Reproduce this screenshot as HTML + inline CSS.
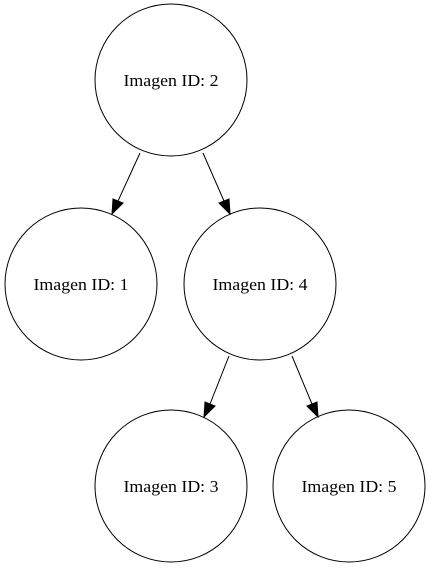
<!DOCTYPE html>
<html><head><style>body{margin:0;background:#fff}</style></head><body>
<svg width="433" height="569" xmlns="http://www.w3.org/2000/svg" font-family="Liberation Serif, serif" font-size="17">
<rect width="433" height="569" fill="#fff"/>
<g fill="none" stroke="#000" stroke-width="1">
<circle cx="171" cy="80" r="76"/>
<circle cx="81" cy="284" r="76"/>
<circle cx="260" cy="284" r="76"/>
<circle cx="171" cy="486" r="76"/>
<circle cx="349" cy="486" r="76"/>
<line x1="140" y1="153" x2="118" y2="201"/>
<line x1="203" y1="153" x2="224" y2="201"/>
<line x1="229" y1="356" x2="210" y2="404"/>
<line x1="292" y1="356" x2="312" y2="404"/>
</g>
<g fill="#000" stroke="#000">
<polygon points="112,214 113,199 123,203"/>
<polygon points="230,214 219,203 229,199"/>
<polygon points="204,417 205,402 215,406"/>
<polygon points="318,417 307,406 317,402"/>
</g>
<g text-anchor="middle" fill="#000">
<text x="171" y="86" textLength="95" lengthAdjust="spacingAndGlyphs">Imagen ID: 2</text>
<text x="81" y="290" textLength="95" lengthAdjust="spacingAndGlyphs">Imagen ID: 1</text>
<text x="260" y="290" textLength="95" lengthAdjust="spacingAndGlyphs">Imagen ID: 4</text>
<text x="171" y="492" textLength="95" lengthAdjust="spacingAndGlyphs">Imagen ID: 3</text>
<text x="349" y="492" textLength="95" lengthAdjust="spacingAndGlyphs">Imagen ID: 5</text>
</g>
</svg>
</body></html>
